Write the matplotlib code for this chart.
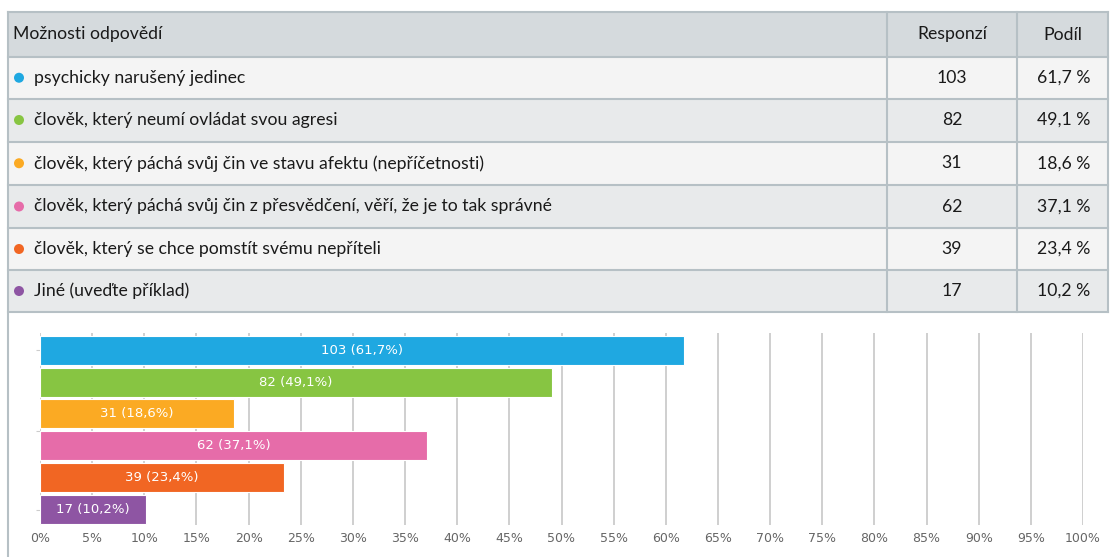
import matplotlib.pyplot as plt
from matplotlib.patches import Rectangle, Circle

# data
options = [
    'psychicky narušený jedinec',
    'člověk, který neumí ovládat svou agresi',
    'člověk, který páchá svůj čin ve stavu afektu (nepříčetnosti)',
    'člověk, který páchá svůj čin z přesvědčení, věří, že je to tak správné',
    'člověk, který se chce pomstít svému nepříteli',
    'Jiné (uveďte příklad)',
]
counts = [103, 82, 31, 62, 39, 17]
shares = [61.7, 49.1, 18.6, 37.1, 23.4, 10.2]
colors = ['#1fa8e1', '#87c542', '#fbaa23', '#e66ca9', '#f16623', '#8e55a3']
headers = ['Možnosti odpovědí', 'Responzí', 'Podíl']

narrow = ['Lato', 'DejaVu Sans']
plain = ['DejaVu Sans']
border = '#b6c0c5'

fig = plt.figure(figsize=(11.1, 5.57), dpi=100)

# table drawn in pixel coordinates
tab = fig.add_axes([0, 0, 1, 1])
tab.set_xlim(0, 1110)
tab.set_ylim(557, 0)
tab.axis('off')

edges = [12, 57, 98.5, 141.5, 185, 228, 270, 312]
cols = [8, 887, 1017, 1108]
tab.add_patch(Rectangle((cols[0], edges[0]), cols[-1] - cols[0], edges[1] - edges[0],
                        facecolor='#d5dadd', edgecolor='none'))
for i in range(len(options)):
    fc = '#f4f4f4' if i % 2 == 0 else '#e8eaeb'
    tab.add_patch(Rectangle((cols[0], edges[i + 1]), cols[-1] - cols[0], edges[i + 2] - edges[i + 1],
                            facecolor=fc, edgecolor='none'))
for y in edges:
    tab.plot([cols[0], cols[-1]], [y, y], color=border, lw=1.5)
for x in cols[1:]:
    tab.plot([x, x], [edges[0], edges[-1]], color=border, lw=1.5)
tab.plot([cols[0], cols[0]], [edges[0], 557], color=border, lw=1.5)

fs = 12.7
tc = '#1a1a1a'
mid = (edges[0] + edges[1]) / 2
tab.text(13, mid, headers[0], family=narrow, fontsize=fs, va='center', color=tc)
tab.text((cols[1] + cols[2]) / 2, mid, headers[1], family=narrow, fontsize=fs, va='center', ha='center', color=tc)
tab.text((cols[2] + cols[3]) / 2, mid, headers[2], family=narrow, fontsize=fs, va='center', ha='center', color=tc)
for i, (opt, n, s, c) in enumerate(zip(options, counts, shares, colors)):
    yc = (edges[i + 1] + edges[i + 2]) / 2
    tab.add_patch(Circle((19, yc), 5, facecolor=c, edgecolor='none'))
    tab.text(34, yc, opt, family=narrow, fontsize=fs, va='center', color=tc)
    tab.text((cols[1] + cols[2]) / 2, yc, str(n), family=narrow, fontsize=fs, va='center', ha='center', color=tc)
    tab.text((cols[2] + cols[3]) / 2 + 1, yc, f'{s:.1f}'.replace('.', ',') + ' %', family=narrow,
             fontsize=fs, va='center', ha='center', color=tc)

# bar chart
ax = fig.add_axes([40 / 1110, 1 - 525 / 557, (1083 - 40) / 1110, (525 - 333) / 557])
ypos = list(range(len(options)))
ax.barh(ypos, shares, height=0.91, color=colors, edgecolor='white', linewidth=0.8, zorder=3)
for y, n, s in zip(ypos, counts, shares):
    ax.text(s / 2, y, f'{n} ({s:.1f}%)'.replace('.', ','), ha='center', va='center',
            color='white', fontsize=9.5, family=plain, zorder=4)
ax.set_xlim(0, 100)
ax.set_ylim(5.5, -0.55)
ax.set_xticks(range(0, 101, 5))
ax.set_xticklabels([f'{v}%' for v in range(0, 101, 5)], family=plain)
ax.set_yticks([0, 2.55, 5.02])
ax.set_yticklabels([])
ax.tick_params(axis='y', length=3, color='#cccccc')
ax.tick_params(axis='x', length=0, labelsize=9, labelcolor='#666666', pad=5)
ax.grid(axis='x', color='#cccccc', lw=1.3, zorder=0)
for sp in ax.spines.values():
    sp.set_visible(False)

fig.savefig('out.png', dpi=100)
